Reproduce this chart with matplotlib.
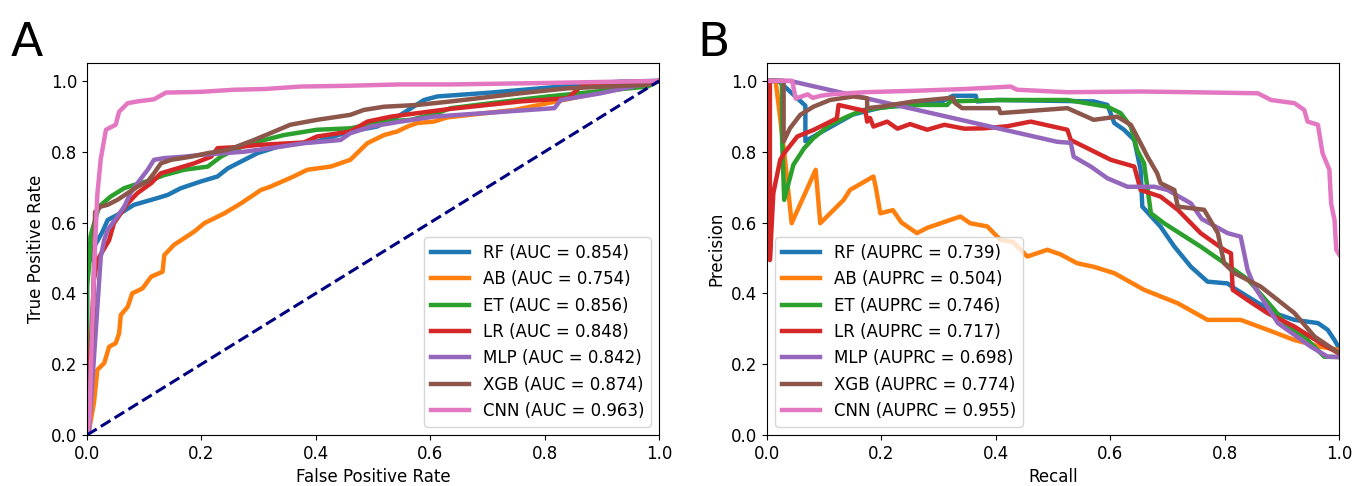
"""ROC (A) and precision-recall (B) curves for the seven classifiers."""

import matplotlib.pyplot as plt

models = ["RF", "AB", "ET", "LR", "MLP", "XGB", "CNN"]
auc = [0.854, 0.754, 0.856, 0.848, 0.842, 0.874, 0.963]
auprc = [0.739, 0.504, 0.746, 0.717, 0.698, 0.774, 0.955]

# ---- ROC curves ----
rf_fpr = [0, 0, 0.012, 0.027, 0.036, 0.059, 0.082, 0.123, 0.141, 0.164, 0.199, 0.228, 0.246,
          0.269, 0.298, 0.343, 0.402, 0.46, 0.507, 0.548, 0.589, 0.612, 0.706, 0.828, 0.933, 1.0]
rf_tpr = [0, 0.47, 0.53, 0.574, 0.607, 0.627, 0.65, 0.669, 0.678, 0.697, 0.716, 0.73, 0.753,
          0.772, 0.796, 0.819, 0.829, 0.857, 0.871, 0.904, 0.946, 0.956, 0.967, 0.984, 0.998, 1.0]

ab_fpr = [0, 0.0035, 0.012, 0.018, 0.03, 0.0385, 0.05, 0.056, 0.059, 0.071, 0.079, 0.097, 0.112,
          0.132, 0.135, 0.152, 0.17, 0.187, 0.205, 0.24, 0.269, 0.304, 0.32, 0.361, 0.385, 0.426,
          0.46, 0.49, 0.519, 0.542, 0.56, 0.577, 0.606, 0.63, 0.747, 0.863, 0.922, 1.0]
ab_tpr = [0, 0.014, 0.09, 0.184, 0.203, 0.249, 0.259, 0.287, 0.339, 0.362, 0.40, 0.414, 0.447,
          0.461, 0.508, 0.537, 0.556, 0.574, 0.598, 0.626, 0.654, 0.692, 0.701, 0.73, 0.749, 0.758,
          0.777, 0.824, 0.847, 0.857, 0.871, 0.881, 0.885, 0.897, 0.918, 0.956, 0.975, 1.0]

et_fpr = [0, 0, 0.0035, 0.006, 0.009, 0.021, 0.041, 0.065, 0.082, 0.112, 0.135, 0.17, 0.211,
          0.234, 0.257, 0.287, 0.31, 0.344, 0.402, 0.46, 0.519, 0.566, 0.612, 0.636, 0.706, 0.805,
          0.922, 0.98, 1.0]
et_tpr = [0, 0.42, 0.475, 0.56, 0.579, 0.645, 0.673, 0.697, 0.706, 0.72, 0.734, 0.749, 0.758,
          0.786, 0.805, 0.824, 0.833, 0.847, 0.862, 0.866, 0.885, 0.89, 0.909, 0.923, 0.937, 0.956,
          0.975, 0.984, 1.0]

lr_fpr = [0, 0.005, 0.012, 0.018, 0.0385, 0.047, 0.059, 0.071, 0.088, 0.112, 0.129, 0.158, 0.187,
          0.217, 0.228, 0.263, 0.298, 0.332, 0.379, 0.402, 0.46, 0.49, 0.531, 0.63, 0.758, 0.84,
          0.863, 0.933, 1.0]
lr_tpr = [0, 0.2, 0.438, 0.494, 0.55, 0.598, 0.626, 0.654, 0.683, 0.711, 0.739, 0.753, 0.767,
          0.786, 0.81, 0.813, 0.819, 0.822, 0.826, 0.843, 0.857, 0.885, 0.899, 0.92, 0.942, 0.951,
          0.984, 0.993, 1.0]

mlp_fpr = [0, 0.0035, 0.024, 0.03, 0.036, 0.053, 0.065, 0.076, 0.088, 0.106, 0.117, 0.135, 0.17,
           0.199, 0.24, 0.275, 0.338, 0.379, 0.443, 0.46, 0.496, 0.548, 0.606, 0.817, 0.828, 0.898, 1.0]
mlp_tpr = [0, 0.014, 0.504, 0.551, 0.579, 0.617, 0.645, 0.683, 0.711, 0.749, 0.777, 0.782, 0.786,
           0.791, 0.796, 0.80, 0.814, 0.824, 0.833, 0.852, 0.871, 0.885, 0.899, 0.923, 0.946, 0.965, 1.0]

xgb_fpr = [0, 0.01, 0.014, 0.024, 0.036, 0.053, 0.071, 0.088, 0.106, 0.117, 0.129, 0.147, 0.182,
           0.211, 0.246, 0.287, 0.32, 0.355, 0.402, 0.46, 0.484, 0.519, 0.577, 0.636, 0.758, 0.84,
           0.98, 1.0]
xgb_tpr = [0, 0.3, 0.63, 0.645, 0.65, 0.664, 0.683, 0.701, 0.716, 0.739, 0.767, 0.777, 0.786,
           0.796, 0.805, 0.83, 0.852, 0.876, 0.89, 0.904, 0.918, 0.927, 0.932, 0.942, 0.965, 0.979,
           0.989, 1.0]

cnn_fpr = [0, 0.004, 0.009, 0.013, 0.018, 0.024, 0.033, 0.05, 0.056, 0.071, 0.088, 0.117, 0.138,
           0.199, 0.257, 0.31, 0.373, 0.45, 0.548, 0.636, 0.8, 1.0]
cnn_tpr = [0, 0.05, 0.30, 0.50, 0.68, 0.78, 0.862, 0.876, 0.913, 0.937, 0.942, 0.948, 0.967,
           0.969, 0.975, 0.977, 0.984, 0.986, 0.99, 0.99, 0.994, 1.0]

# ---- precision-recall curves ----
rf_rec = [0, 0.02, 0.067, 0.067, 0.1, 0.15, 0.2, 0.25, 0.3, 0.325, 0.365, 0.367, 0.402, 0.571,
          0.595, 0.607, 0.624, 0.642, 0.653, 0.656, 0.688, 0.712, 0.741, 0.77, 0.805, 0.817, 0.84,
          0.887, 0.922, 0.963, 0.98, 0.992, 1.0]
rf_prec = [1.0, 1.0, 0.93, 0.83, 0.86, 0.905, 0.925, 0.932, 0.937, 0.958, 0.958, 0.942, 0.946,
           0.942, 0.932, 0.881, 0.862, 0.833, 0.749, 0.645, 0.588, 0.532, 0.475, 0.433, 0.428,
           0.414, 0.391, 0.344, 0.325, 0.316, 0.297, 0.268, 0.245]

ab_rec = [0, 0.015, 0.03, 0.043, 0.085, 0.093, 0.134, 0.145, 0.186, 0.19, 0.198, 0.22, 0.235,
          0.262, 0.28, 0.338, 0.355, 0.385, 0.408, 0.43, 0.455, 0.49, 0.513, 0.542, 0.571, 0.607,
          0.659, 0.718, 0.77, 0.828, 0.875, 0.922, 0.968, 1.0]
ab_prec = [1.0, 1.0, 0.80, 0.598, 0.749, 0.598, 0.664, 0.692, 0.73, 0.70, 0.626, 0.635, 0.60,
           0.57, 0.585, 0.617, 0.598, 0.589, 0.551, 0.545, 0.504, 0.523, 0.51, 0.485, 0.475,
           0.457, 0.41, 0.372, 0.325, 0.325, 0.297, 0.268, 0.249, 0.24]

et_rec = [0, 0.026, 0.026, 0.03, 0.046, 0.065, 0.081, 0.11, 0.14, 0.169, 0.22, 0.27, 0.315, 0.32,
          0.408, 0.525, 0.595, 0.618, 0.636, 0.647, 0.659, 0.671, 0.694, 0.758, 0.817, 0.84, 0.887,
          0.91, 0.939, 0.974, 1.0]
et_prec = [1.0, 1.0, 0.85, 0.664, 0.763, 0.81, 0.838, 0.876, 0.899, 0.918, 0.928, 0.932, 0.932,
           0.942, 0.946, 0.946, 0.927, 0.909, 0.871, 0.805, 0.767, 0.626, 0.598, 0.532, 0.466,
           0.44, 0.353, 0.306, 0.278, 0.221, 0.22]

lr_rec = [0, 0.005, 0.005, 0.011, 0.023, 0.03, 0.053, 0.082, 0.122, 0.125, 0.172, 0.175, 0.18,
          0.186, 0.21, 0.228, 0.25, 0.28, 0.31, 0.345, 0.379, 0.42, 0.461, 0.525, 0.531, 0.566,
          0.601, 0.642, 0.653, 0.688, 0.718, 0.758, 0.799, 0.811, 0.814, 0.84, 0.875, 0.922, 0.968, 1.0]
lr_prec = [1.0, 1.0, 0.494, 0.683, 0.777, 0.796, 0.843, 0.862, 0.894, 0.932, 0.915, 0.885, 0.895,
           0.871, 0.885, 0.865, 0.878, 0.862, 0.876, 0.865, 0.866, 0.872, 0.885, 0.862, 0.833,
           0.805, 0.777, 0.758, 0.692, 0.673, 0.636, 0.57, 0.523, 0.513, 0.41, 0.381, 0.344,
           0.306, 0.259, 0.23]

mlp_rec = [0, 0.04, 0.507, 0.531, 0.536, 0.566, 0.595, 0.63, 0.677, 0.70, 0.741, 0.76, 0.805,
           0.828, 0.84, 0.852, 0.893, 0.951, 0.98, 1.0]
mlp_prec = [1.0, 1.0, 0.828, 0.825, 0.786, 0.758, 0.725, 0.701, 0.701, 0.692, 0.654, 0.61, 0.57,
            0.56, 0.466, 0.419, 0.316, 0.249, 0.221, 0.22]

xgb_rec = [0, 0.029, 0.029, 0.04, 0.058, 0.081, 0.11, 0.151, 0.175, 0.175, 0.198, 0.256, 0.315,
           0.325, 0.329, 0.341, 0.405, 0.408, 0.525, 0.571, 0.612, 0.636, 0.653, 0.665, 0.682,
           0.688, 0.712, 0.718, 0.764, 0.788, 0.799, 0.817, 0.863, 0.893, 0.922, 0.957, 1.0]
xgb_prec = [1.0, 1.0, 0.829, 0.866, 0.904, 0.927, 0.946, 0.956, 0.951, 0.923, 0.927, 0.942, 0.951,
            0.953, 0.937, 0.923, 0.923, 0.909, 0.923, 0.89, 0.899, 0.876, 0.824, 0.786, 0.739,
            0.711, 0.692, 0.645, 0.636, 0.57, 0.485, 0.457, 0.419, 0.381, 0.344, 0.278, 0.231]

cnn_rec = [0, 0.044, 0.05, 0.071, 0.08, 0.094, 0.112, 0.17, 0.257, 0.345, 0.426, 0.437, 0.525,
           0.653, 0.741, 0.858, 0.881, 0.922, 0.939, 0.945, 0.963, 0.971, 0.983, 0.986, 0.992,
           0.995, 1.0]
cnn_prec = [1.0, 1.0, 0.95, 0.962, 0.952, 0.958, 0.962, 0.968, 0.972, 0.977, 0.984, 0.975, 0.968,
            0.97, 0.968, 0.965, 0.946, 0.937, 0.918, 0.885, 0.876, 0.796, 0.749, 0.654, 0.607,
            0.523, 0.51]

roc = [(rf_fpr, rf_tpr), (ab_fpr, ab_tpr), (et_fpr, et_tpr), (lr_fpr, lr_tpr),
       (mlp_fpr, mlp_tpr), (xgb_fpr, xgb_tpr), (cnn_fpr, cnn_tpr)]
prc = [(rf_rec, rf_prec), (ab_rec, ab_prec), (et_rec, et_prec), (lr_rec, lr_prec),
       (mlp_rec, mlp_prec), (xgb_rec, xgb_prec), (cnn_rec, cnn_prec)]

LW = 3.2
FS = 12

fig = plt.figure(figsize=(13.54, 4.86), dpi=100)
ax1 = fig.add_axes([0.0643, 0.105, 0.4225, 0.765])
ax2 = fig.add_axes([0.5665, 0.105, 0.4225, 0.765])

for i, (name, (x, y)) in enumerate(zip(models, roc)):
    ax1.plot(x, y, color=f"C{i}", lw=LW, label=f"{name} (AUC = {auc[i]:.3f})")
ax1.plot([0, 1], [0, 1], color="navy", lw=2.2, linestyle="--")
ax1.set_xlim(0.0, 1.0)
ax1.set_ylim(0.0, 1.05)
ax1.set_xlabel("False Positive Rate", fontsize=FS)
ax1.set_ylabel("True Positive Rate", fontsize=FS)
ax1.legend(loc="lower right", fontsize=FS, handlelength=2.3)

for i, (name, (x, y)) in enumerate(zip(models, prc)):
    ax2.plot(x, y, color=f"C{i}", lw=LW, label=f"{name} (AUPRC = {auprc[i]:.3f})")
ax2.set_xlim(0.0, 1.0)
ax2.set_ylim(0.0, 1.05)
ax2.set_xlabel("Recall", fontsize=FS)
ax2.set_ylabel("Precision", fontsize=FS)
ax2.legend(loc="lower left", fontsize=FS, handlelength=2.3)

for ax in (ax1, ax2):
    ax.tick_params(labelsize=FS)

fig.text(0.008, 0.885, "A", fontsize=34)
fig.text(0.515, 0.885, "B", fontsize=34)

fig.savefig("out.png", dpi=100)
